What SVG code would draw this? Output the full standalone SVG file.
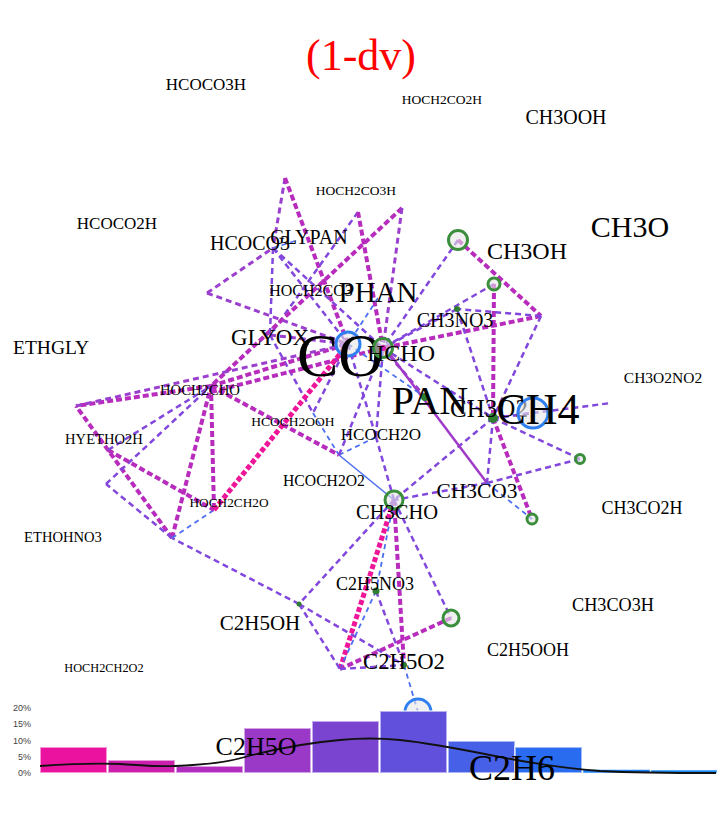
<svg xmlns="http://www.w3.org/2000/svg" width="721" height="826" viewBox="0 0 721 826">
<style>
text{font-family:"Liberation Serif","Times New Roman",serif;fill:#000;text-anchor:middle}
.ax{font-family:"Liberation Sans",Arial,sans-serif;font-size:9px;fill:#444;text-anchor:end}
line{fill:none}
.p{stroke:#9b3fcf;stroke-width:3;stroke-dasharray:6 4}
.v{stroke:#8247dc;stroke-width:2.5;stroke-dasharray:6 4}
.m{stroke:#b72bbd;stroke-width:4;stroke-dasharray:6 3}
.pk{stroke:#ee1599;stroke-width:5;stroke-dasharray:5 2.5}
.b{stroke:#4c6ef0;stroke-width:1.8;stroke-dasharray:5 4}
.sb{stroke:#4c6ef0;stroke-width:1.5}
.sp{stroke:#a03ac8;stroke-width:2.5}
.gc{fill:#e6e6e6;fill-opacity:0.6;stroke:#3b8e3b;stroke-width:3}
.bc{fill:#e6e6e6;fill-opacity:0.6;stroke:#2f7ff0;stroke-width:3}
.gd{fill:#2e7d32}
.bar{stroke:#ffffff;stroke-opacity:0.55;stroke-width:2}
.bar2{stroke:#ffffff;stroke-opacity:0.55;stroke-width:1}
</style>
<rect width="721" height="826" fill="#fff"/>
<text x="361" y="70" style="font-size:44px;fill:#ff0000">(1-dv)</text>

<g id="links">
<line class="p" x1="285" y1="178" x2="273" y2="248"/>
<line class="m" x1="285" y1="178" x2="348" y2="344"/>
<line class="v" x1="358" y1="212" x2="270" y2="335"/>
<line class="m" x1="358" y1="212" x2="383" y2="348"/>
<line class="m" x1="402" y1="208" x2="211" y2="386"/>
<line class="p" x1="402" y1="208" x2="383" y2="348"/>
<line class="p" x1="207" y1="293" x2="273" y2="248"/>
<line class="p" x1="207" y1="293" x2="348" y2="344"/>
<line class="b" x1="273" y1="248" x2="298" y2="240"/>
<line class="v" x1="273" y1="248" x2="270" y2="335"/>
<line class="v" x1="273" y1="248" x2="383" y2="348"/>
<line class="v" x1="273" y1="248" x2="348" y2="344"/>
<line class="v" x1="270" y1="335" x2="313" y2="413"/>
<line class="p" x1="270" y1="335" x2="348" y2="344"/>
<line class="b" x1="378" y1="298" x2="348" y2="344"/>
<line class="v" x1="458" y1="240" x2="383" y2="348"/>
<line class="m" x1="458" y1="240" x2="541" y2="316"/>
<line class="v" x1="494" y1="284" x2="383" y2="348"/>
<line class="m" x1="494" y1="284" x2="493" y2="418"/>
<line class="m" x1="541" y1="316" x2="383" y2="348"/>
<line class="v" x1="541" y1="316" x2="457" y2="309"/>
<line class="v" x1="541" y1="316" x2="493" y2="418"/>
<line class="v" x1="457" y1="309" x2="383" y2="348"/>
<line class="v" x1="457" y1="309" x2="493" y2="418"/>
<line class="v" x1="383" y1="348" x2="493" y2="418"/>
<line class="p" x1="383" y1="348" x2="425" y2="397"/>
<line class="v" x1="493" y1="418" x2="533" y2="413"/>
<line class="v" x1="493" y1="418" x2="611" y2="403"/>
<line class="v" x1="493" y1="418" x2="580" y2="459"/>
<line class="m" x1="493" y1="418" x2="532" y2="519"/>
<line class="v" x1="493" y1="418" x2="487" y2="483"/>
<line class="v" x1="493" y1="418" x2="394" y2="500"/>
<line class="sp" x1="383" y1="345" x2="487" y2="483"/>
<line class="v" x1="487" y1="483" x2="580" y2="459"/>
<line class="b" x1="487" y1="483" x2="532" y2="519"/>
<line class="v" x1="487" y1="483" x2="394" y2="500"/>
<line class="v" x1="394" y1="500" x2="376" y2="437"/>
<line class="v" x1="376" y1="437" x2="383" y2="348"/>
<line class="sb" x1="339" y1="455" x2="394" y2="500"/>
<line class="b" x1="313" y1="413" x2="339" y2="455"/>
<line class="b" x1="339" y1="455" x2="376" y2="437"/>
<line class="pk" x1="394" y1="500" x2="340" y2="669"/>
<line class="b" x1="394" y1="500" x2="376" y2="591"/>
<line class="b" x1="376" y1="591" x2="340" y2="669"/>
<line class="m" x1="394" y1="500" x2="404" y2="665"/>
<line class="v" x1="394" y1="500" x2="451" y2="618"/>
<line class="v" x1="394" y1="500" x2="299" y2="604"/>
<line class="v" x1="376" y1="591" x2="404" y2="665"/>
<line class="m" x1="451" y1="618" x2="340" y2="669"/>
<line class="v" x1="299" y1="604" x2="340" y2="669"/>
<line class="v" x1="299" y1="604" x2="404" y2="665"/>
<line class="v" x1="340" y1="669" x2="404" y2="665"/>
<line class="b" x1="404" y1="665" x2="418" y2="712"/>
<line class="v" x1="299" y1="604" x2="172" y2="538"/>
<line class="m" x1="172" y1="538" x2="211" y2="386"/>
<line class="m" x1="172" y1="538" x2="76" y2="406"/>
<line class="v" x1="172" y1="538" x2="106" y2="484"/>
<line class="b" x1="172" y1="538" x2="214" y2="510"/>
<line class="m" x1="211" y1="386" x2="214" y2="510"/>
<line class="m" x1="211" y1="386" x2="76" y2="406"/>
<line class="v" x1="106" y1="484" x2="211" y2="386"/>
<line class="m" x1="108" y1="450" x2="214" y2="510"/>
<line class="v" x1="108" y1="450" x2="211" y2="386"/>
<line class="m" x1="211" y1="386" x2="339" y2="455"/>
<line class="m" x1="211" y1="386" x2="348" y2="344"/>
<line class="m" x1="211" y1="392" x2="383" y2="348"/>
<line class="p" x1="76" y1="406" x2="348" y2="344"/>
<line class="pk" x1="214" y1="510" x2="348" y2="344"/>
<line class="v" x1="348" y1="344" x2="313" y2="413"/>
<line class="v" x1="348" y1="344" x2="376" y2="437"/>
<line class="v" x1="339" y1="455" x2="383" y2="348"/>
<line class="b" x1="348" y1="344" x2="425" y2="397"/>
</g>

<g id="node-HCOCO3H"><text x="206" y="90" style="font-size:17px">HCOCO3H</text></g>
<g id="node-HOCH2CO2H"><text x="442" y="104" style="font-size:13.5px">HOCH2CO2H</text></g>
<g id="node-CH3OOH"><circle class="gc" cx="494" cy="284" r="6"/><text x="566" y="124" style="font-size:20px">CH3OOH</text></g>
<g id="node-CH3O"><text x="630" y="237" style="font-size:30px">CH3O</text></g>
<g id="node-HCOCO2H"><text x="117" y="229" style="font-size:17px">HCOCO2H</text></g>
<g id="node-HOCH2CO3H"><text x="356" y="195" style="font-size:13.5px">HOCH2CO3H</text></g>
<g id="node-HCOCO3"><text x="250" y="250" style="font-size:20px">HCOCO3</text></g>
<g id="node-GLYPAN"><text x="309" y="244" style="font-size:20px">GLYPAN</text></g>
<g id="node-CH3OH"><circle class="gc" cx="458" cy="240" r="9.5"/><text x="527" y="259" style="font-size:24px">CH3OH</text></g>
<g id="node-HOCH2CO3"><text x="311" y="296" style="font-size:16px">HOCH2CO3</text></g>
<g id="node-PHAN"><text x="378" y="302" style="font-size:29px">PHAN</text></g>
<g id="node-CH3NO3"><circle class="gd" cx="457" cy="309" r="3"/><text x="455" y="327" style="font-size:20px">CH3NO3</text></g>
<g id="node-GLYOX"><text x="270" y="345" style="font-size:23px">GLYOX</text></g>
<g id="node-CO"><circle class="bc" cx="348" cy="344" r="12"/><text x="340" y="376" style="font-size:62px">CO</text></g>
<g id="node-HCHO"><circle class="gc" cx="383" cy="348" r="9.5"/><circle cx="383" cy="348" r="3" fill="#d21ea8"/><text x="401" y="361" style="font-size:24px">HCHO</text></g>
<g id="node-ETHGLY"><text x="51" y="354" style="font-size:19.5px">ETHGLY</text></g>
<g id="node-CH3O2NO2"><circle class="gc" cx="580" cy="459" r="4.5"/><text x="663" y="383" style="font-size:15.5px">CH3O2NO2</text></g>
<g id="node-PAN"><circle class="gd" cx="425" cy="397" r="4"/><text x="430" y="414" style="font-size:40px">PAN</text></g>
<g id="node-CH3O2"><circle class="gd" cx="493" cy="418" r="5"/><text x="489" y="417" style="font-size:25px">CH3O2</text></g>
<g id="node-CH4"><circle class="bc" cx="533" cy="413" r="15"/><text x="538" y="424" style="font-size:44px">CH4</text></g>
<g id="node-HOCH2CHO"><text x="200" y="395" style="font-size:14.7px">HOCH2CHO</text></g>
<g id="node-HCOCH2OOH"><text x="293" y="426" style="font-size:13.5px">HCOCH2OOH</text></g>
<g id="node-HYETHO2H"><text x="104" y="444" style="font-size:14.6px">HYETHO2H</text></g>
<g id="node-HCOCH2O"><text x="381" y="440" style="font-size:17px">HCOCH2O</text></g>
<g id="node-HCOCH2O2"><text x="324" y="486" style="font-size:15.7px">HCOCH2O2</text></g>
<g id="node-CH3CO3"><text x="477" y="498" style="font-size:21.4px">CH3CO3</text></g>
<g id="node-HOCH2CH2O"><text x="229" y="507" style="font-size:13.3px">HOCH2CH2O</text></g>
<g id="node-CH3CO2H"><text x="642" y="514" style="font-size:18px">CH3CO2H</text></g>
<g id="node-CH3CHO"><circle class="gc" cx="394" cy="500" r="9"/><text x="397" y="519" style="font-size:20.5px">CH3CHO</text></g>
<g id="node-ETHOHNO3"><text x="63" y="542" style="font-size:14.6px">ETHOHNO3</text></g>
<g id="node-C2H5NO3"><circle class="gd" cx="376" cy="591" r="3.5"/><text x="375" y="590" style="font-size:18px">C2H5NO3</text></g>
<g id="node-CH3CO3H"><circle class="gc" cx="532" cy="519" r="5"/><text x="613" y="611" style="font-size:18.2px">CH3CO3H</text></g>
<g id="node-C2H5OH"><circle class="gd" cx="299" cy="604" r="2.5"/><text x="260" y="630" style="font-size:21px">C2H5OH</text></g>
<g id="node-C2H5OOH"><circle class="gc" cx="451" cy="618" r="8"/><text x="528" y="656" style="font-size:18px">C2H5OOH</text></g>
<g id="node-C2H5O2"><circle class="gd" cx="404" cy="665" r="3"/><text x="404" y="669" style="font-size:22.7px">C2H5O2</text></g>
<g id="node-HOCH2CH2O2"><text x="104" y="672" style="font-size:12.3px">HOCH2CH2O2</text></g>
<g id="node-C2H6-marker"><circle class="bc" cx="418" cy="712" r="13"/></g>

<g id="histogram">
<text class="ax" x="31" y="711">20%</text>
<text class="ax" x="31" y="727">15%</text>
<text class="ax" x="31" y="744">10%</text>
<text class="ax" x="31" y="760">5%</text>
<text class="ax" x="31" y="776">0%</text>
<rect class="bar" x="40" y="747" width="67" height="26" fill="#ec12a0"/>
<rect class="bar" x="108" y="760" width="67" height="13" fill="#cc1fae"/>
<rect class="bar" x="176" y="766" width="67" height="7" fill="#b22cc0"/>
<rect class="bar" x="244" y="728" width="67" height="45" fill="#9a38c8"/>
<rect class="bar" x="312" y="721" width="67" height="52" fill="#7b44d0"/>
<rect class="bar" x="380" y="711" width="67" height="62" fill="#6150dc"/>
<rect class="bar" x="448" y="741" width="67" height="32" fill="#4660e8"/>
<rect class="bar" x="515" y="747" width="67" height="26" fill="#2a6cf0"/>
<rect class="bar2" x="583" y="769.5" width="67" height="3.5" fill="#1a80f5"/>
<rect class="bar2" x="651" y="770" width="66" height="3" fill="#1a8af8"/>
<path d="M40,766 C70,764 95,763 120,764 C140,765 155,767 175,766 C200,765 225,763 245,757 C275,749 305,743 340,740 C360,738 380,738 400,740 C430,743 460,749 495,756 C530,763 560,768 600,771 C640,773 680,773 716,773" fill="none" stroke="#111" stroke-width="1.8"/>
</g>

<g id="node-C2H5O"><text x="256" y="755" style="font-size:26px">C2H5O</text></g>
<g id="node-C2H6"><text x="512" y="780" style="font-size:36px">C2H6</text></g>
</svg>
